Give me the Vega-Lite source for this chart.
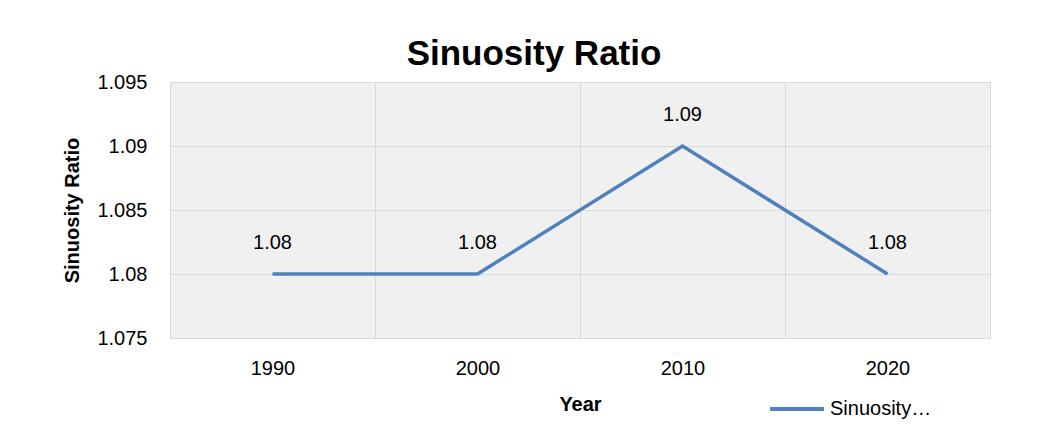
{
  "$schema": "https://vega.github.io/schema/vega-lite/v6.json",
  "width": 820,
  "height": 256,
  "autosize": {"type": "none"},
  "padding": {"left": 170, "top": 82, "right": 62, "bottom": 90},
  "background": "white",
  "title": {
    "text": "Sinuosity Ratio",
    "font": "Liberation Sans",
    "fontSize": 35,
    "fontWeight": "bold",
    "color": "#000000",
    "anchor": "middle",
    "baseline": "alphabetic",
    "offset": 15,
    "dx": -46,
    "dy": 43
  },
  "data": {
    "values": [
      {"Year": "1990", "Sinuosity Ratio": 1.08, "Series": "Sinuosity Ratio"},
      {"Year": "2000", "Sinuosity Ratio": 1.08, "Series": "Sinuosity Ratio"},
      {"Year": "2010", "Sinuosity Ratio": 1.09, "Series": "Sinuosity Ratio"},
      {"Year": "2020", "Sinuosity Ratio": 1.08, "Series": "Sinuosity Ratio"}
    ]
  },
  "encoding": {
    "x": {
      "field": "Year",
      "type": "ordinal",
      "scale": {"type": "band", "paddingInner": 0, "paddingOuter": 0},
      "axis": {
        "title": "Year",
        "grid": true,
        "tickBand": "extent",
        "ticks": false,
        "domain": false,
        "labelAngle": 0,
        "labelPadding": 20,
        "titlePadding": 16
      }
    },
    "y": {
      "field": "Sinuosity Ratio",
      "type": "quantitative",
      "scale": {"domain": [1.075, 1.095], "zero": false, "nice": false},
      "axis": {
        "title": "Sinuosity Ratio",
        "values": [1.075, 1.08, 1.085, 1.09, 1.095],
        "format": "~g",
        "grid": true,
        "ticks": false,
        "domain": false,
        "labelPadding": 23,
        "titlePadding": 14
      }
    }
  },
  "layer": [
    {
      "mark": {"type": "line", "strokeWidth": 3.5},
      "encoding": {
        "color": {
          "field": "Series",
          "type": "nominal",
          "scale": {"range": ["#4f81bd"]},
          "legend": {
            "orient": "none",
            "legendX": 598,
            "legendY": 298,
            "title": null,
            "symbolType": "stroke",
            "symbolSize": 2900,
            "symbolStrokeWidth": 4,
            "labelFontSize": 20,
            "labelColor": "#000000",
            "labelOffset": 4,
            "labelLimit": 300,
            "labelExpr": "'Sinuosity…'"
          }
        }
      }
    },
    {
      "mark": {"type": "text", "fontSize": 20, "color": "#000000", "baseline": "middle", "dy": -31},
      "encoding": {
        "text": {"field": "Sinuosity Ratio", "type": "quantitative", "format": ".2f"}
      }
    }
  ],
  "config": {
    "font": "Liberation Sans",
    "view": {"fill": "#f0f0f0", "stroke": "#d9d9d9", "strokeWidth": 1},
    "axis": {
      "gridColor": "#d9d9d9",
      "gridWidth": 1,
      "gridOpacity": 1,
      "labelFontSize": 20,
      "labelColor": "#000000",
      "labelFont": "Liberation Sans",
      "titleFontSize": 20,
      "titleFontWeight": "bold",
      "titleColor": "#000000",
      "titleFont": "Liberation Sans"
    }
  }
}
